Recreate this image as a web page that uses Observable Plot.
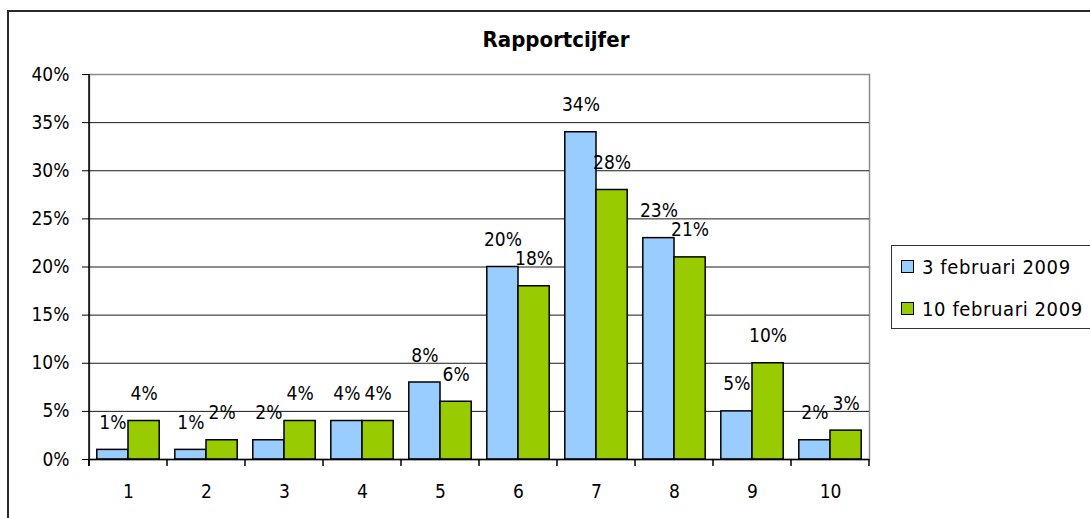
<!DOCTYPE html>
<html><head><meta charset="utf-8">
<script src="https://cdn.jsdelivr.net/npm/d3@7"></script>
<script src="https://cdn.jsdelivr.net/npm/@observablehq/plot@0.6"></script>
<style>
body{margin:0;background:#fff;}
#chart{position:relative;width:1090px;height:518px;overflow:hidden;font-family:"DejaVu Sans Condensed","DejaVu Sans",sans-serif;color:#000;}
#border{position:absolute;left:7px;top:10px;width:1200px;height:600px;border:2px solid #2a2a2a;box-sizing:border-box;}
#plot{position:absolute;left:0;top:0;}
#title{position:absolute;left:0;width:1112px;top:27px;text-align:center;font-weight:bold;font-size:22px;line-height:26px;}
#legend{position:absolute;left:891px;top:245px;width:260px;height:84px;border:1px solid #333;box-sizing:border-box;background:#fff;}
.item{position:absolute;left:9px;height:24px;line-height:24px;font-size:20px;letter-spacing:0.6px;white-space:nowrap;}
.sw{display:inline-block;width:11px;height:11px;border:1.5px solid #000;vertical-align:middle;margin-right:8px;position:relative;top:-2px;}
</style></head>
<body>
<div id="chart">
  <div id="border"></div>
  <div id="plot"></div>
  <div id="title">Rapportcijfer</div>
  <div id="legend"></div>
</div>
<script>
const title = "Rapportcijfer";
const categories = ["1","2","3","4","5","6","7","8","9","10"];
const series = ["3 februari 2009", "10 februari 2009"];
const feb3 = [1, 1, 2, 4, 8, 20, 34, 23, 5, 2];
const feb10 = [4, 2, 4, 4, 6, 18, 28, 21, 10, 3];
const yTicks = [0, 5, 10, 15, 20, 25, 30, 35, 40];
const colors = ["#99CCFF", "#99CC00"];

const data = categories.flatMap((c, i) => [
  {cat: c, series: series[0], value: feb3[i]},
  {cat: c, series: series[1], value: feb10[i]}
]);

const W = 1090, H = 518, mL = 89, mR = 221, mT = 74, mB = 59;
const step = (W - mL - mR) / categories.length;
const font = '"DejaVu Sans Condensed","DejaVu Sans",sans-serif';
const fs = 19;

const s0 = data.filter(d => d.series === series[0]);
const s1 = data.filter(d => d.series === series[1]);

const plot = Plot.plot({
  width: W, height: H,
  marginLeft: mL, marginRight: mR, marginTop: mT, marginBottom: mB,
  style: {fontFamily: font, fontSize: fs + "px", color: "#000", background: "transparent", overflow: "visible"},
  x: {domain: categories, padding: 0, label: null},
  y: {domain: [0, 40], label: null},
  color: {domain: series, range: colors},
  marks: [
    Plot.frame({stroke: "#8c8c8c", strokeWidth: 1.5}),
    Plot.ruleY(yTicks.filter(t => t > 0 && t < 40), {stroke: "#1a1a1a", strokeWidth: 1}),
    Plot.barY(s0, {x: "cat", y: "value", fill: "series", stroke: "#000", strokeWidth: 1.5, insetLeft: step * 0.1, insetRight: step * 0.5}),
    Plot.barY(s1, {x: "cat", y: "value", fill: "series", stroke: "#000", strokeWidth: 1.5, insetLeft: step * 0.5, insetRight: step * 0.1}),
    Plot.text(s0, {x: "cat", y: "value", text: d => d.value + "%", dx: -step * 0.2, dy: -27, fontSize: fs, fill: "#000"}),
    Plot.text(s1, {x: "cat", y: "value", text: d => d.value + "%", dx: step * 0.2, dy: -27, fontSize: fs, fill: "#000"}),
    Plot.ruleY([0], {stroke: "#000", strokeWidth: 1.5}),
    Plot.axisY({ticks: yTicks, tickFormat: d => d + "%", tickSize: 7, tickPadding: 13, fontSize: fs, label: null, stroke: "#000"}),
    Plot.axisX({tickSize: 0, tickPadding: 25, fontSize: fs, label: null})
  ]
});
document.getElementById("plot").appendChild(plot);

// left axis line and category boundary ticks from the plot's own scales
const sx = plot.scale("x"), sy = plot.scale("y");
const svg = d3.select(plot);
const y0 = sy.apply(0), yTop = sy.apply(40);
svg.append("line").attr("x1", sx.range[0]).attr("x2", sx.range[0]).attr("y1", yTop).attr("y2", y0 + 7)
  .attr("stroke", "#000").attr("stroke-width", 1.5);
const bounds = categories.map(c => sx.apply(c)).concat([sx.range[1]]);
svg.append("g").selectAll("line").data(bounds).join("line")
  .attr("x1", d => d).attr("x2", d => d).attr("y1", y0).attr("y2", y0 + 7)
  .attr("stroke", "#000").attr("stroke-width", 1.5);

document.getElementById("title").textContent = title;
const legend = d3.select("#legend");
series.forEach((s, i) => {
  const it = legend.append("div").attr("class", "item").style("top", (9 + i * 42) + "px");
  it.append("span").attr("class", "sw").style("background", colors[i]);
  it.append("span").text(s);
});
</script>
</body></html>
